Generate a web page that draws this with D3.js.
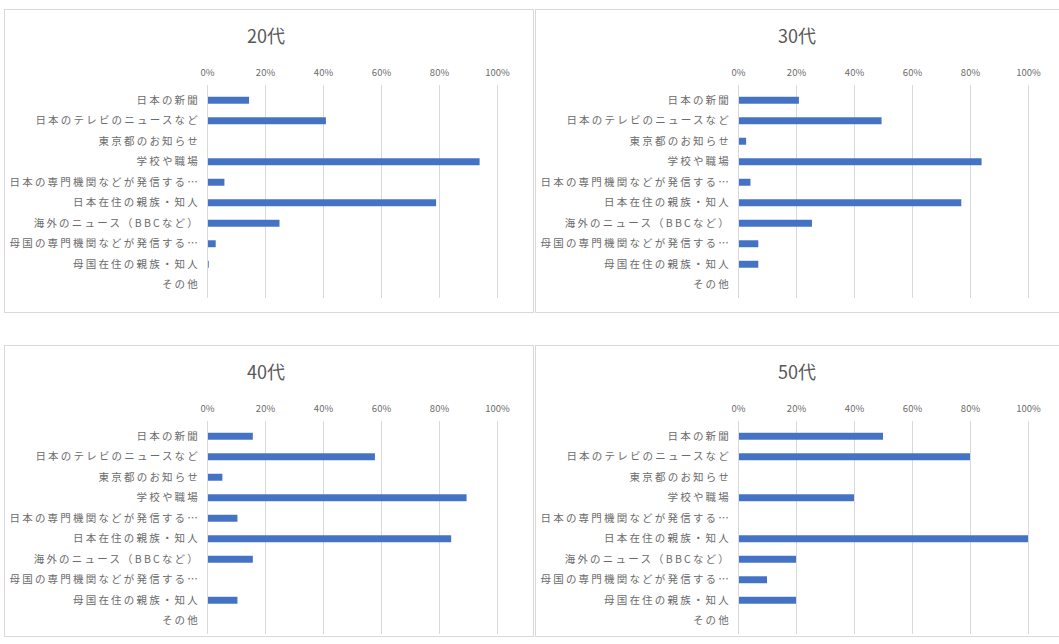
<!DOCTYPE html>
<html><head><meta charset="utf-8">
<script src="https://cdn.jsdelivr.net/npm/d3@7/dist/d3.min.js"></script>
<style>
html,body{margin:0;padding:0;background:#fff;}
svg{display:block;}
text{font-family:"Noto Sans CJK JP","Noto Sans",sans-serif;}
</style></head>
<body>
<svg id="chart" width="1059" height="644"></svg>
<script>
const categories = ["日本の新聞","日本のテレビのニュースなど","東京都のお知らせ","学校や職場","日本の専門機関などが発信する…","日本在住の親族・知人","海外のニュース（BBCなど）","母国の専門機関などが発信する…","母国在住の親族・知人","その他"];
const titles = ["20代","30代","40代","50代"];
const values20 = [0.145,0.41,0,0.94,0.06,0.79,0.25,0.03,0.006,0];
const values30 = [0.21,0.495,0.028,0.84,0.043,0.77,0.255,0.07,0.07,0];
const values40 = [0.158,0.579,0.053,0.895,0.105,0.842,0.158,0,0.105,0];
const values50 = [0.5,0.8,0,0.4,0,1.0,0.2,0.1,0.2,0];
const tickValues = [0,0.2,0.4,0.6,0.8,1.0];
const tickLabels = ["0%","20%","40%","60%","80%","100%"];

const series = [values20, values30, values40, values50];
const svg = d3.select("#chart");
const origins = [[4,9,303],[535,9,303],[4,345,291],[535,345,291]];

series.forEach((vals, i) => {
  const [ox, oy, ph] = origins[i];
  const g = svg.append("g").attr("transform", `translate(${ox},${oy})`);
  g.append("rect").attr("x",0.5).attr("y",0.5).attr("width",529).attr("height",ph)
    .attr("fill","#fff").attr("stroke","#d9d9d9").attr("stroke-width",1);
  const x = d3.scaleLinear().domain([0,1]).range([203,493]);
  const y = d3.scaleBand().domain(categories).range([81,286]).paddingInner(0.66).paddingOuter(0.33);
  g.append("text").attr("x",262).attr("y",34).attr("text-anchor","middle")
    .attr("font-size",18).attr("fill","#595959").text(titles[i]);
  // gridlines
  g.append("g").selectAll("line").data(tickValues).join("line")
    .attr("x1",d=>Math.round(x(d))+0.5).attr("x2",d=>Math.round(x(d))+0.5)
    .attr("y1",76).attr("y2",289).attr("stroke","#d9d9d9").attr("stroke-width",1);
  // top axis
  const ax = g.append("g").attr("transform","translate(0,64)")
    .call(d3.axisTop(x).tickValues(tickValues).tickFormat((d,j)=>tickLabels[j]).tickSize(0).tickPadding(0));
  ax.select(".domain").remove();
  ax.selectAll("text").attr("font-size",9.5).attr("fill","#6b6b6b").attr("dy","0.35em").attr("y",0);
  // bars
  g.append("g").selectAll("rect").data(vals).join("rect")
    .attr("x",x(0)).attr("y",(d,j)=>y(categories[j]))
    .attr("width",d=>x(d)-x(0)).attr("height",y.bandwidth())
    .attr("fill","#4472c4");
  // category labels
  const ay = g.append("g").attr("transform",`translate(${x(0)},0)`)
    .call(d3.axisLeft(y).tickSize(0).tickPadding(7));
  ay.select(".domain").attr("stroke","#d9d9d9").attr("d","M0.5,76V289");
  ay.selectAll("text").attr("font-size",10.5).attr("fill","#6b6b6b").attr("letter-spacing","2.2px");
});
</script>
</body></html>
